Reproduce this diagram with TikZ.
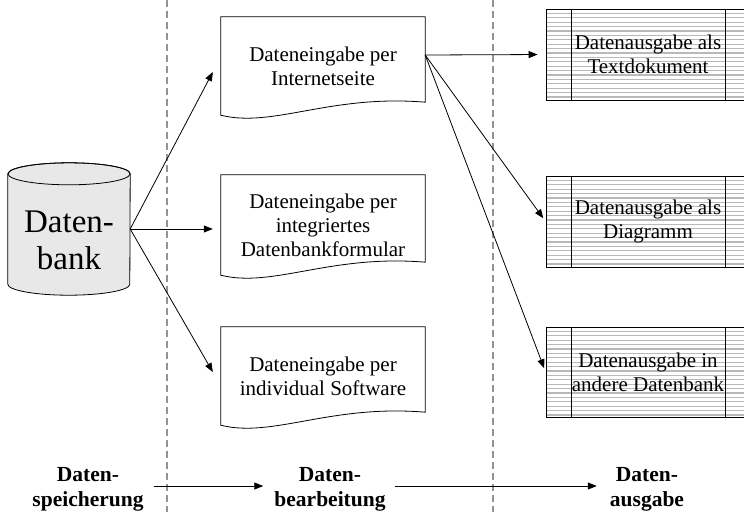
\documentclass[tikz,border=0pt]{standalone}
\usepackage{fontspec}
\setmainfont{Liberation Serif}
\usetikzlibrary{arrows.meta,calc}

\newcommand{\boxfont}{\fontsize{21}{24}\selectfont}
\newcommand{\dbfont}{\fontsize{33}{37}\selectfont}
\newcommand{\phasefont}{\fontsize{21.5}{25}\selectfont\bfseries}

\tikzset{
  outline/.style={draw=black, line width=0.8pt},
  link/.style={line width=0.8pt, -{Triangle[length=9pt,width=7pt]}},
  divider/.style={draw=gray!85, line width=1.1pt, dash pattern=on 7pt off 4pt},
  stripe/.style={draw=gray!55, line width=1.3pt},
  docbox/.style={rectangle, minimum width=204pt, inner sep=0pt, align=center, font=\boxfont},
  outbox/.style={rectangle, outline, minimum width=204pt, inner sep=0pt,
    align=center, font=\boxfont,
    path picture={
      \foreach \k in {1,...,21}{
        \draw[stripe] ([yshift=-\k*4.4pt]path picture bounding box.north west)
                   -- ([yshift=-\k*4.4pt]path picture bounding box.north east);
      }
      \draw[outline] ([xshift=25pt]path picture bounding box.north west)
                  -- ([xshift=25pt]path picture bounding box.south west);
      \draw[outline] ([xshift=-25pt]path picture bounding box.north east)
                  -- ([xshift=-25pt]path picture bounding box.south east);
    }},
  phase/.style={inner sep=0pt, align=center, font=\phasefont},
}

\begin{document}
\begin{tikzpicture}[x=1pt,y=-1pt]
\useasboundingbox (0,0) rectangle (744,512);

% phase separators
\draw[divider] (167,0) -- (167,512);
\draw[divider] (493,0) -- (493,512);

% database cylinder
\node[minimum width=122pt, minimum height=110pt, inner sep=0pt] (db) at (69,229) {};
\draw[outline, fill=gray!18]
  (db.north west) -- (db.south west)
  arc[start angle=180, end angle=360, x radius=61pt, y radius=11pt]
  -- (db.north east)
  arc[start angle=0, end angle=180, x radius=61pt, y radius=11pt] -- cycle;
\draw[outline] (db.north) ellipse [x radius=61pt, y radius=11pt];
\node[inner sep=0pt, align=center, font=\dbfont] (dbtext) at (69,240) {Daten-\\bank};

% input documents
\node[docbox, minimum height=98pt] (d1) at (323,66) {Dateneingabe per\\Internetseite};
\node[docbox, minimum height=100pt] (d2) at (323,225) {Dateneingabe per\\integriertes\\Datenbankformular};
\node[docbox, minimum height=98pt] (d3) at (323,376) {Dateneingabe per\\individual Software};
\foreach \d in {d1,d2,d3}{
  \draw[outline] (\d.north west) -- (\d.north east) -- ([shift={(0,-13)}]\d.south east)
    .. controls ([shift={(-95,-21)}]\d.south east) and ([shift={(52,13)}]\d.south west)
    .. (\d.south west) -- cycle;
}

% output documents
\node[outbox, minimum height=91pt] (o1) at (648,54.5) {Datenausgabe als\\Textdokument};
\node[outbox, minimum height=91pt] (o2) at (648,221.5) {Datenausgabe als\\Diagramm};
\node[outbox, minimum height=90pt] (o3) at (648,372) {Datenausgabe in\\andere Datenbank};

% data flow
\draw[link] (db.east) -- ([shift={(-8,6)}]d1.west);
\draw[link] (db.east) -- ([shift={(-8,4)}]d2.west);
\draw[link] (db.east) -- ([shift={(-8,-4)}]d3.west);
\draw[link, shorten >=8pt] ([shift={(0,-11)}]d1.east) -- (o1.west);
\draw[link, shorten >=4pt] ([shift={(0,-11)}]d1.east) -- (o2.west);
\draw[link, shorten >=4pt] ([shift={(0,-11)}]d1.east) -- (o3.west);

% phase labels
\node[phase] (l1) at (88,489.5) {Daten-\\speicherung};
\node[phase] (l2) at (330,489.5) {Daten-\\bearbeitung};
\node[phase] (l3) at (647,489.5) {Daten-\\ausgabe};
\draw[link] ([shift={(10,-3.5)}]l1.east) -- ([shift={(-11,-3.5)}]l2.west);
\draw[link] ([shift={(9,-3.5)}]l2.east) -- ([shift={(-13,-3.5)}]l3.west);
\end{tikzpicture}
\end{document}
